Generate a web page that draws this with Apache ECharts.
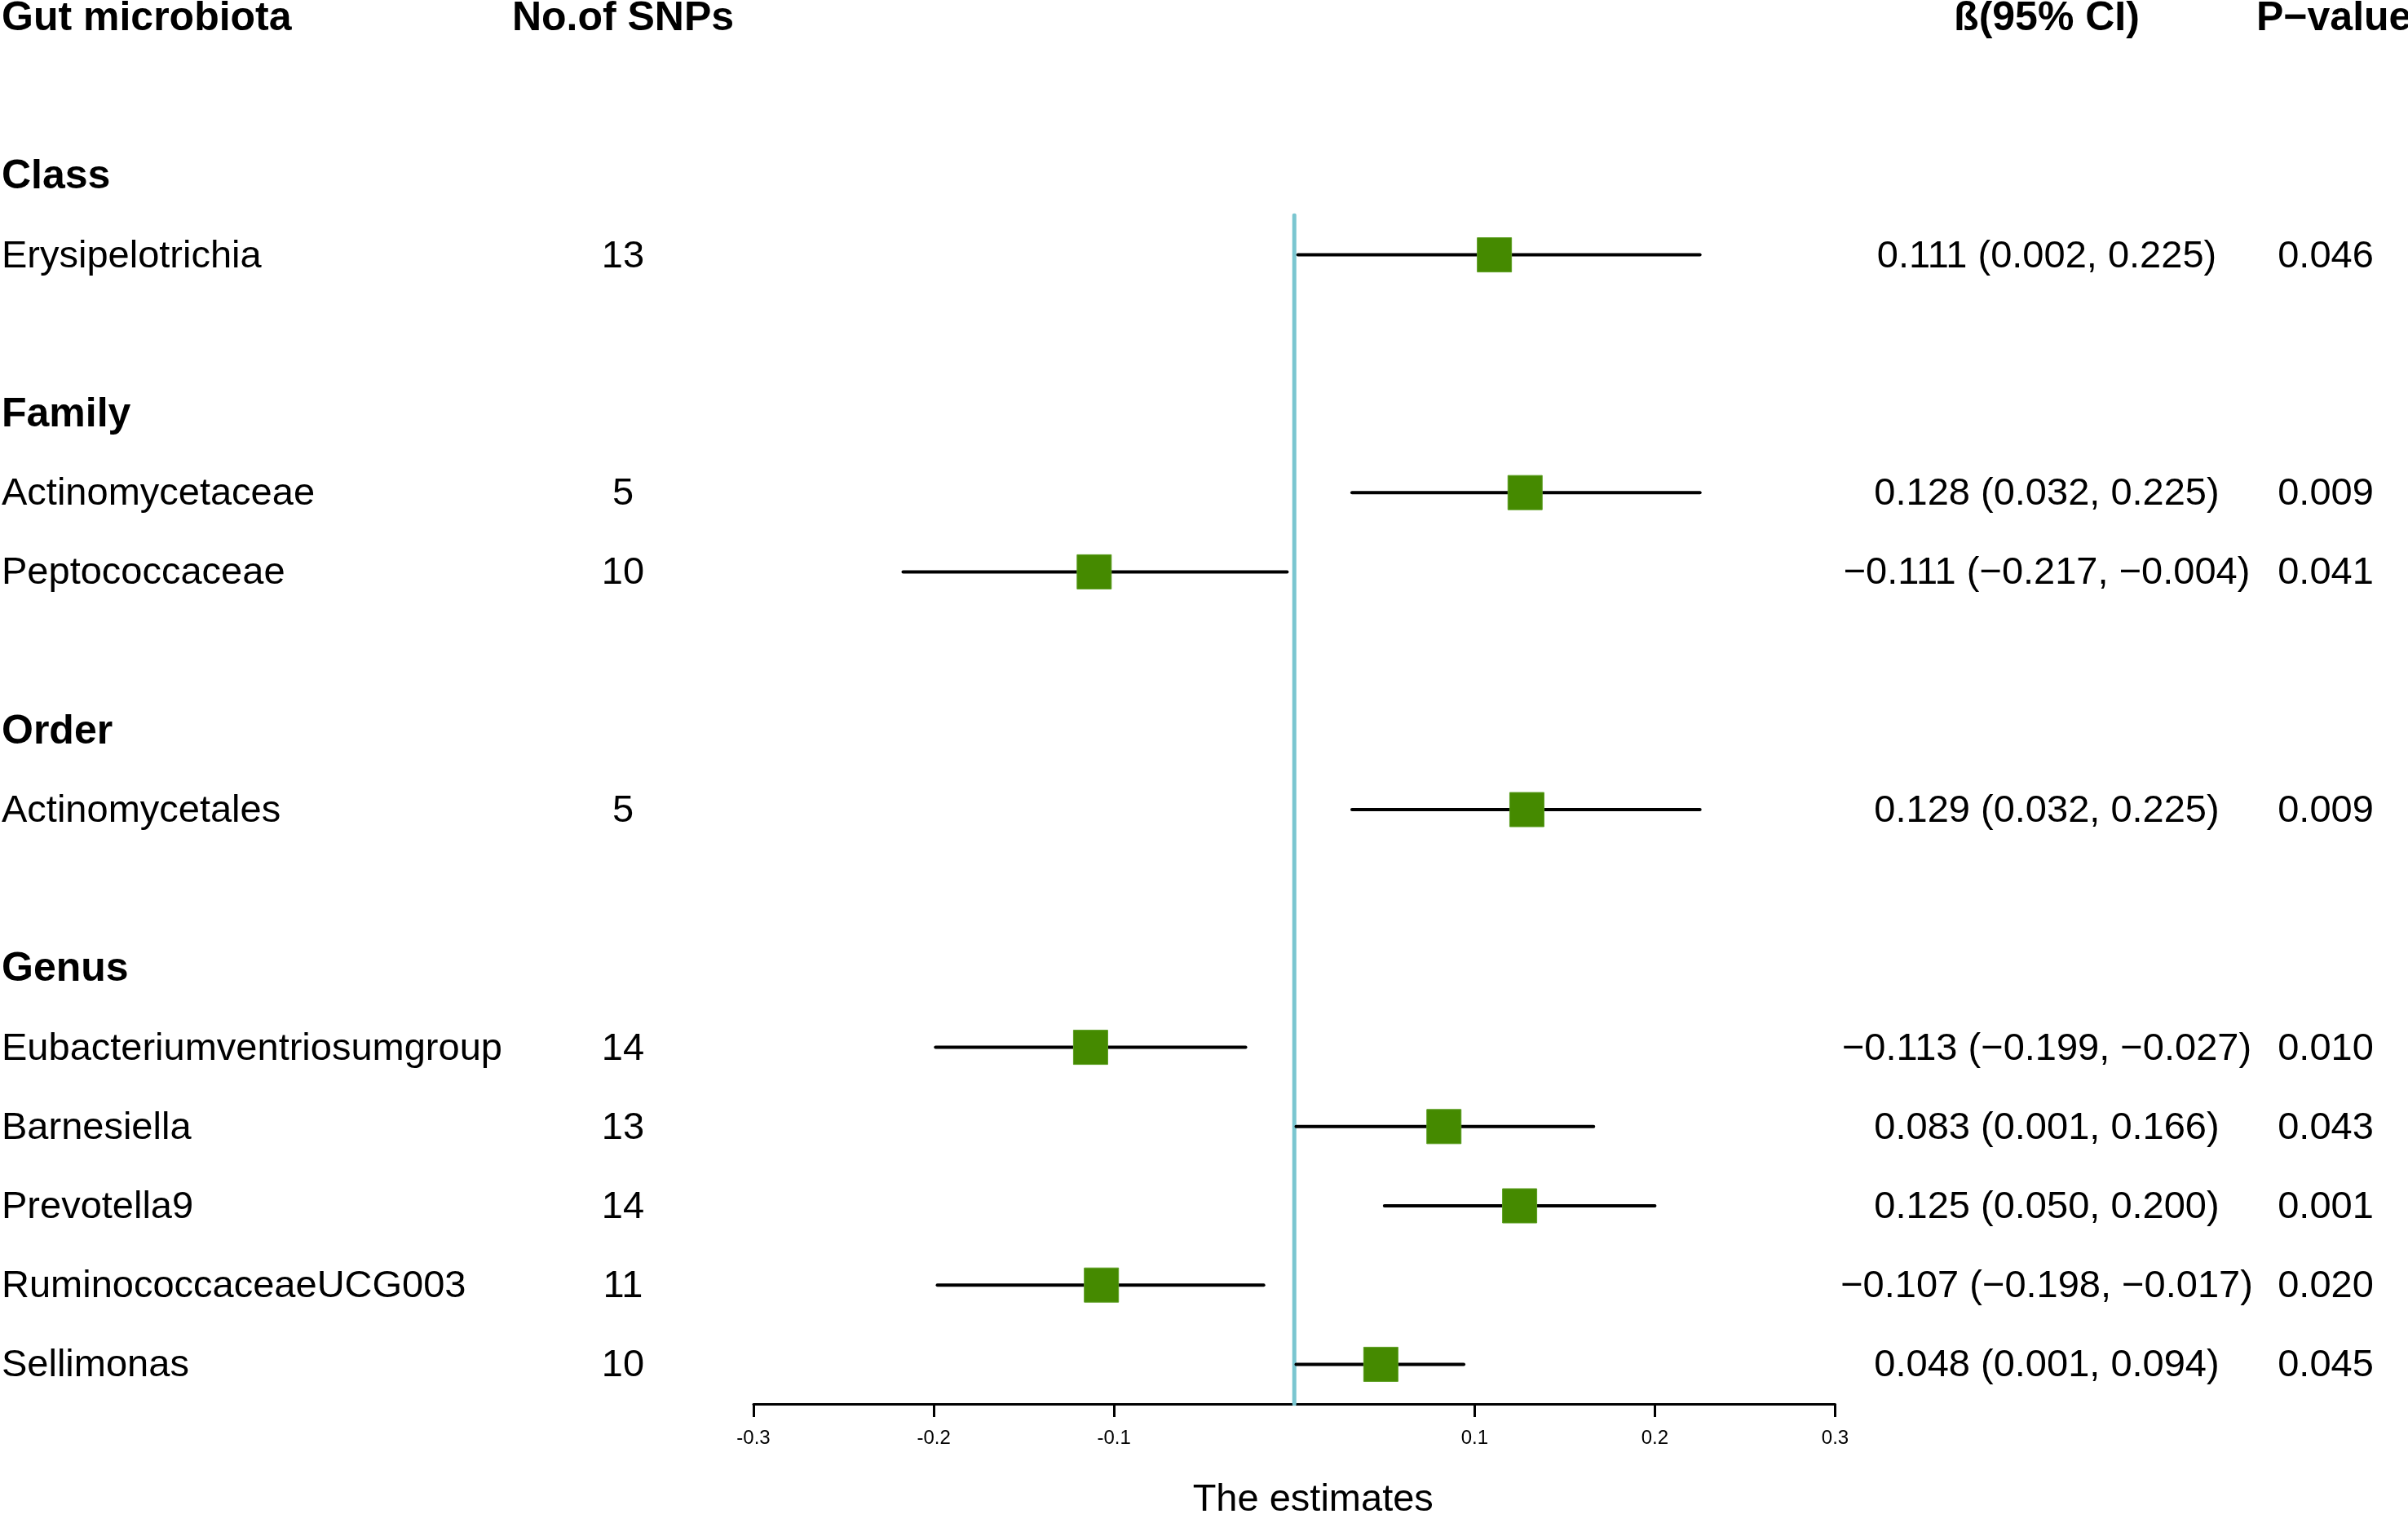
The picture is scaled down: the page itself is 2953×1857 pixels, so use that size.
<!DOCTYPE html>
<html>
<head>
<meta charset="utf-8">
<script src="https://cdn.jsdelivr.net/npm/echarts@6/dist/echarts.min.js"></script>
<style>
  html, body { margin: 0; padding: 0; background: #fff; }
  #main { width: 2953px; height: 1857px; }
</style>
</head>
<body>
<div id="main"></div>
<script>
// forest plot data
var groups = ['Class', 'Family', 'Order', 'Genus'];
var taxa = ['Erysipelotrichia', 'Actinomycetaceae', 'Peptococcaceae', 'Actinomycetales',
  'Eubacteriumventriosumgroup', 'Barnesiella', 'Prevotella9', 'RuminococcaceaeUCG003', 'Sellimonas'];
var taxonGroup = ['Class', 'Family', 'Family', 'Order', 'Genus', 'Genus', 'Genus', 'Genus', 'Genus'];
var nSnps = [13, 5, 10, 5, 14, 13, 14, 11, 10];
var beta = [0.111, 0.128, -0.111, 0.129, -0.113, 0.083, 0.125, -0.107, 0.048];
var ciLow = [0.002, 0.032, -0.217, 0.032, -0.199, 0.001, 0.050, -0.198, 0.001];
var ciHigh = [0.225, 0.225, -0.004, 0.225, -0.027, 0.166, 0.200, -0.017, 0.094];
var pValues = ['0.046', '0.009', '0.041', '0.009', '0.010', '0.043', '0.001', '0.020', '0.045'];
var headers = ['Gut microbiota', 'No.of SNPs', 'ß(95% CI)', 'P\u2212value'];
var xTicks = [-0.3, -0.2, -0.1, 0.1, 0.2, 0.3];

var FONT = '"Liberation Sans", Arial, Helvetica, sans-serif';
var COL_NAME = 2, COL_SNP = 764, COL_CI = 2510, COL_P = 2852, COL_P_HEAD = 2767;

function fmt(v) {
  return (v < 0 ? '\u2212' : '') + Math.abs(v).toFixed(3);
}

// work out the table rows: header, blank, then group label + members + blank
var taxonRow = [];
var textItems = [];
textItems.push({ x: COL_NAME, row: 0, text: headers[0], align: 'left', bold: true });
textItems.push({ x: COL_SNP, row: 0, text: headers[1], align: 'center', bold: true });
textItems.push({ x: COL_CI, row: 0, text: headers[2], align: 'center', bold: true });
textItems.push({ x: COL_P_HEAD, row: 0, text: headers[3], align: 'left', bold: true });

var r = 2;
groups.forEach(function (g) {
  textItems.push({ x: COL_NAME, row: r, text: g, align: 'left', bold: true });
  r++;
  for (var i = 0; i < taxa.length; i++) {
    if (taxonGroup[i] !== g) continue;
    taxonRow[i] = r;
    textItems.push({ x: COL_NAME, row: r, text: taxa[i], align: 'left' });
    textItems.push({ x: COL_SNP, row: r, text: String(nSnps[i]), align: 'center' });
    textItems.push({ x: COL_CI, row: r, text: fmt(beta[i]) + ' (' + fmt(ciLow[i]) + ', ' + fmt(ciHigh[i]) + ')', align: 'center' });
    textItems.push({ x: COL_P, row: r, text: pValues[i], align: 'center' });
    r++;
  }
  r++;
});
var lastRow = r - 2;

var myChart = echarts.init(document.getElementById('main'), null, { renderer: 'canvas' });

var option = {
  backgroundColor: '#fff',
  animation: false,
  grid: [
    { left: 0, right: 0, top: 23, height: 1701, outerBoundsMode: 'none', containLabel: false },
    { left: 924, width: 1326.5, top: 264, height: 1458, outerBoundsMode: 'none', containLabel: false }
  ],
  xAxis: [
    { gridIndex: 0, type: 'value', min: 0, max: 2953, show: false },
    {
      gridIndex: 1, type: 'value', min: -0.3, max: 0.3,
      splitLine: { show: false },
      axisLine: { show: true, onZero: false, lineStyle: { color: '#000', width: 3 } },
      axisTick: { show: true, customValues: xTicks, length: 16, lineStyle: { color: '#000', width: 3 } },
      axisLabel: { show: true, customValues: xTicks, color: '#000', fontSize: 24, fontFamily: FONT, margin: 30,
        formatter: function (v) { return String(v); } },
      name: 'The estimates',
      nameLocation: 'middle',
      nameGap: 95,
      nameTextStyle: { color: '#000', fontSize: 47, fontFamily: FONT, padding: [0, 0, 0, 46] }
    }
  ],
  yAxis: [
    { gridIndex: 0, type: 'value', min: 0, max: 17.5, inverse: true, show: false },
    { gridIndex: 1, type: 'value', min: 2.5, max: lastRow + 0.5, inverse: true, show: false }
  ],
  series: [
    {
      // table text
      type: 'custom',
      xAxisIndex: 0, yAxisIndex: 0,
      data: textItems.map(function (t) { return [t.x, t.row]; }),
      renderItem: function (params, api) {
        var t = textItems[params.dataIndex];
        var p = api.coord([api.value(0), api.value(1)]);
        return {
          type: 'text',
          x: p[0], y: p[1],
          style: {
            text: t.text,
            fill: '#000',
            font: (t.bold ? 'bold 50px ' : '47px ') + FONT,
            textAlign: t.align,
            textVerticalAlign: 'middle'
          }
        };
      }
    },
    {
      // zero line
      type: 'line',
      xAxisIndex: 1, yAxisIndex: 1,
      data: [[0, 2.5], [0, lastRow + 0.5]],
      symbol: 'none',
      lineStyle: { color: '#7AC6D0', width: 5, cap: 'round' },
      z: 2
    },
    {
      // CI lines and boxes
      type: 'custom',
      xAxisIndex: 1, yAxisIndex: 1,
      data: beta.map(function (b, i) { return [b, taxonRow[i], ciLow[i], ciHigh[i]]; }),
      encode: { x: [0, 2, 3], y: 1 },
      renderItem: function (params, api) {
        var row = api.value(1);
        var c = api.coord([api.value(0), row]);
        var lo = api.coord([api.value(2), row]);
        var hi = api.coord([api.value(3), row]);
        return {
          type: 'group',
          children: [
            { type: 'line', shape: { x1: lo[0], y1: lo[1], x2: hi[0], y2: hi[1] },
              style: { stroke: '#000', lineWidth: 4, lineCap: 'round' } },
            { type: 'rect', shape: { x: c[0] - 21, y: c[1] - 21, width: 42, height: 42 },
              style: { fill: '#458A00', stroke: '#5C9E22', lineWidth: 1 } }
          ]
        };
      },
      z: 3
    }
  ]
};

myChart.setOption(option);
</script>
</body>
</html>
